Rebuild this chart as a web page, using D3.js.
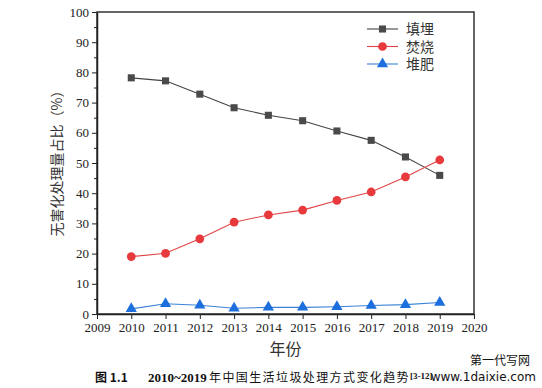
<!DOCTYPE html>
<html>
<head>
<meta charset="utf-8">
<script src="https://cdn.jsdelivr.net/npm/d3@7"></script>
<style>
  body { margin: 0; background: #fff; }
  svg { display: block; }
  .tick text { font-family: "Liberation Serif", serif; font-size: 13px; fill: #222; }
  .domain, .tick line { stroke: #222; }
</style>
</head>
<body>
<div id="wrap"></div>
<script>
var w = 542;
var h = 388;

var years = [2010, 2011, 2012, 2013, 2014, 2015, 2016, 2017, 2018, 2019];
var landfill = [78.2, 77.2, 72.8, 68.3, 65.8, 64.0, 60.6, 57.5, 52.0, 45.9];
var incineration = [19.0, 20.1, 24.9, 30.4, 32.8, 34.4, 37.6, 40.4, 45.4, 51.0];
var compost = [1.7, 3.4, 2.9, 1.9, 2.2, 2.2, 2.4, 2.8, 3.1, 3.8];
var xTicks = [2009, 2010, 2011, 2012, 2013, 2014, 2015, 2016, 2017, 2018, 2019, 2020];
var yTicks = [0, 10, 20, 30, 40, 50, 60, 70, 80, 90, 100];
var yMinor = [5, 15, 25, 35, 45, 55, 65, 75, 85, 95];
var seriesNames = ["填埋", "焚烧", "堆肥"];

var pLeft = 97, pRight = 474, pTop = 12, pBottom = 314;

var svg = d3.select("#wrap").append("svg").attr("width", w).attr("height", h);

var x = d3.scaleLinear().domain([2009, 2020]).range([pLeft, pRight]);
var y = d3.scaleLinear().domain([0, 100]).range([pBottom, pTop]);

// frame
svg.append("rect")
  .attr("x", pLeft).attr("y", pTop)
  .attr("width", pRight - pLeft).attr("height", pBottom - pTop)
  .attr("fill", "none").attr("stroke", "#333").attr("stroke-width", 1.5);

// axes
svg.append("g").attr("transform", "translate(0," + pBottom + ")")
  .call(d3.axisBottom(x).tickValues(xTicks).tickFormat(function(d){ return d; })
    .tickSize(5).tickSizeOuter(0).tickPadding(4));
svg.append("g").attr("transform", "translate(" + pLeft + ",0)")
  .call(d3.axisLeft(y).tickValues(yTicks).tickSize(5).tickSizeOuter(0).tickPadding(3));
svg.append("g").attr("transform", "translate(" + pLeft + ",0)")
  .call(d3.axisLeft(y).tickValues(yMinor).tickSize(3).tickFormat(""))
  .select(".domain").remove();
svg.selectAll(".domain").attr("stroke-width", 1.5);

// axis titles
svg.append("text")
  .attr("transform", "translate(62,160) rotate(-90)")
  .attr("text-anchor", "middle")
  .style("font-family", "'Noto Sans CJK SC', sans-serif")
  .style("font-size", "14px").style("fill", "#333")
  .text("无害化处理量占比（%）");

svg.append("text")
  .attr("x", (pLeft + pRight) / 2).attr("y", 355)
  .attr("text-anchor", "middle")
  .style("font-family", "'Noto Sans CJK SC', sans-serif")
  .style("font-size", "16px").style("fill", "#333")
  .text("年份");

// series
var series = [
  { name: seriesNames[0], values: landfill, line: "#444", fill: "#4a4a4a", shape: d3.symbolSquare, size: 50 },
  { name: seriesNames[1], values: incineration, line: "#e04545", fill: "#e8393c", shape: d3.symbolCircle, size: 60 },
  { name: seriesNames[2], values: compost, line: "#3a82d6", fill: "#1c6fdc", shape: d3.symbolTriangle, size: 55 }
];

var line = d3.line()
  .x(function(d, i){ return x(years[i]); })
  .y(function(d){ return y(d); });

series.forEach(function(s){
  svg.append("path").datum(s.values)
    .attr("d", line).attr("fill", "none")
    .attr("stroke", s.line).attr("stroke-width", 1.1);
  svg.selectAll(null).data(s.values).enter().append("path")
    .attr("d", d3.symbol().type(s.shape).size(s.size))
    .attr("transform", function(d, i){ return "translate(" + x(years[i]) + "," + y(d) + ")"; })
    .attr("fill", s.fill);
});

// legend
var legend = svg.append("g");
series.forEach(function(s, i){
  var ly = 29 + i * 17.5;
  legend.append("line").attr("x1", 367).attr("x2", 398).attr("y1", ly).attr("y2", ly)
    .attr("stroke", s.line).attr("stroke-width", 1.1);
  legend.append("path").attr("d", d3.symbol().type(s.shape).size(s.size))
    .attr("transform", "translate(382.5," + ly + ")").attr("fill", s.fill);
  legend.append("text").attr("x", 406).attr("y", ly + 5)
    .style("font-family", "'Noto Sans CJK SC', sans-serif")
    .style("font-size", "14px").style("fill", "#333")
    .text(s.name);
});

// caption
var cap = svg.append("text").attr("y", 382)
  .style("font-family", "'Noto Sans CJK SC', sans-serif")
  .style("font-size", "12px").style("fill", "#111");
cap.append("tspan").attr("x", 95).style("font-weight", "bold").text("图 1.1");
cap.append("tspan").attr("x", 148).style("font-weight", "bold")
  .style("font-family", "'Liberation Serif', serif").style("font-size", "13px").text("2010~2019");
cap.append("tspan").attr("x", 209).style("letter-spacing", "1.4px").text("年中国生活垃圾处理方式变化趋势");
cap.append("tspan").attr("dy", -3).style("font-weight", "bold")
  .style("font-family", "'Liberation Serif', serif").style("font-size", "9px").text("[3-12]");

// watermark
svg.append("text").attr("x", 530).attr("y", 365).attr("text-anchor", "end")
  .style("font-family", "'Noto Sans CJK SC', sans-serif")
  .style("font-size", "12px").style("fill", "#111").text("第一代写网");
svg.append("text").attr("x", 536).attr("y", 381).attr("text-anchor", "end")
  .style("font-family", "'DejaVu Sans', sans-serif")
  .style("font-size", "12px").style("fill", "#111").text("www.1daixie.com");
</script>
</body>
</html>
